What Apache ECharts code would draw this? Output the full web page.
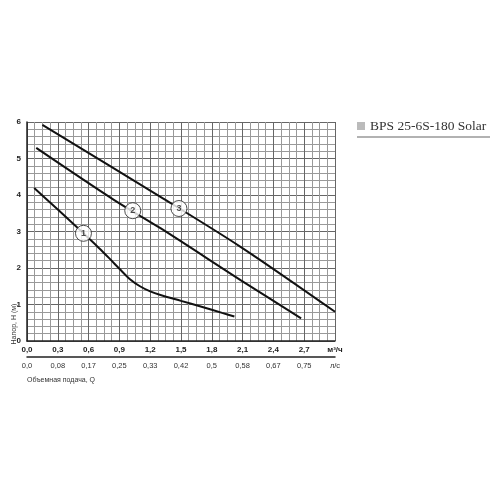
<!DOCTYPE html>
<html lang="ru">
  <head>
    <meta charset="UTF-8" />
    <title>BPS 25-6S-180 Solar</title>
    <script src="https://cdn.jsdelivr.net/npm/echarts@6/dist/echarts.min.js"></script>
    <style>
      html, body { margin: 0; padding: 0; background: #fff; }
      #app { width: 500px; height: 500px; }
    </style>
  </head>
  <body>
    <div id="app"></div>
    <script>
      // подача Q, м3/ч -> напор H, м
      const curve1 = [[0.07, 4.19], [0.3, 3.60], [0.5, 3.08], [0.7, 2.55], [0.8, 2.27], [0.9, 1.98],
        [1.0, 1.70], [1.1, 1.50], [1.2, 1.36], [1.3, 1.26], [1.5, 1.10], [1.7, 0.94], [1.9, 0.77], [2.02, 0.67]];
      const curve2 = [[0.09, 5.29], [0.85, 3.86], [1.30, 3.09], [2.08, 1.67], [2.67, 0.62]];
      const curve3 = [[0.15, 5.92], [1.30, 3.95], [2.08, 2.58], [3.0, 0.80]];
      // кружки с номерами скоростей
      const speedMarks = [[0.55, 2.95, "1"], [1.03, 3.57, "2"], [1.48, 3.63, "3"]];

      const flowLabels = ["0,0", "0,3", "0,6", "0,9", "1,2", "1,5", "1,8", "2,1", "2,4", "2,7", "м³/ч"];
      const flowLsLabels = ["0,0", "0,08", "0,17", "0,25", "0,33", "0,42", "0,5", "0,58", "0,67", "0,75", "л/с"];
      const headLabels = ["0", "1", "2", "3", "4", "5", "6"];

      const font = "'Liberation Sans', Arial, sans-serif";

      const lineSeries = (data) => ({
        type: "line",
        data: data,
        smooth: 0.3,
        symbol: "none",
        lineStyle: { color: "#111", width: 2 },
        z: 3,
      });

      const option = {
        animation: false,
        backgroundColor: "#fff",
        grid: { left: 27, top: 122, width: 308, height: 219, show: false },
        xAxis: [
          {
            type: "value",
            min: 0,
            max: 3,
            interval: 0.3,
            axisLine: { show: true, onZero: false, lineStyle: { color: "#222", width: 1.5 } },
            axisTick: { show: false },
            axisLabel: {
              margin: 5,
              fontSize: 8,
              fontWeight: "bold",
              fontFamily: font,
              color: "#222",
              formatter: (v) => flowLabels[Math.round(v / 0.3)],
            },
            splitLine: { show: true, lineStyle: { color: "#666", width: 1 } },
            minorTick: { show: false, splitNumber: 4 },
            minorSplitLine: { show: true, lineStyle: { color: "#999", width: 1 } },
          },
          {
            type: "value",
            position: "bottom",
            offset: 16,
            min: 0,
            max: 3,
            interval: 0.3,
            axisLine: { show: true, onZero: false, lineStyle: { color: "#222", width: 1.5 } },
            axisTick: { show: false },
            axisLabel: {
              margin: 5,
              fontSize: 7.5,
              fontFamily: font,
              color: "#333",
              formatter: (v) => flowLsLabels[Math.round(v / 0.3)],
            },
            splitLine: { show: false },
          },
        ],
        yAxis: {
          type: "value",
          min: 0,
          max: 6,
          interval: 1,
          axisLine: { show: true, lineStyle: { color: "#222", width: 1.5 } },
          axisTick: { show: false },
          axisLabel: {
            margin: 6,
            fontSize: 8,
            fontWeight: "bold",
            fontFamily: font,
            color: "#222",
            formatter: (v) => headLabels[Math.round(v)],
          },
          splitLine: { show: true, lineStyle: { color: "#666", width: 1 } },
          minorTick: { show: false, splitNumber: 5 },
          minorSplitLine: { show: true, lineStyle: { color: "#999", width: 1 } },
        },
        series: [
          lineSeries(curve1),
          lineSeries(curve2),
          lineSeries(curve3),
          {
            type: "scatter",
            data: speedMarks,
            symbol: "circle",
            symbolSize: 16,
            itemStyle: { color: "#fff", borderColor: "#222", borderWidth: 1 },
            label: {
              show: true,
              position: "inside",
              formatter: (p) => p.value[2],
              fontSize: 9,
              fontWeight: "bold",
              fontFamily: font,
              color: "#222",
            },
            z: 5,
          },
        ],
        graphic: [
          {
            type: "text",
            x: 14,
            y: 324,
            rotation: Math.PI / 2,
            style: {
              text: "Напор, H (м)",
              fontSize: 7,
              fontFamily: font,
              fill: "#333",
              align: "center",
              verticalAlign: "middle",
            },
          },
          {
            type: "text",
            left: 27,
            top: 377,
            style: { text: "Объемная подача, Q", fontSize: 7, fontFamily: font, fill: "#333" },
          },
          {
            type: "rect",
            shape: { x: 357, y: 122, width: 8, height: 8 },
            style: { fill: "#bbb" },
          },
          {
            type: "text",
            left: 370,
            top: 119,
            style: {
              text: "BPS 25-6S-180 Solar",
              fontSize: 13.5,
              fontFamily: "'Liberation Serif', 'Times New Roman', serif",
              fill: "#333",
            },
          },
          {
            type: "line",
            shape: { x1: 357, y1: 137, x2: 490, y2: 137 },
            style: { stroke: "#999", lineWidth: 1.5 },
          },
        ],
      };

      const chart = echarts.init(document.getElementById("app"));
      chart.setOption(option);
    </script>
  </body>
</html>
